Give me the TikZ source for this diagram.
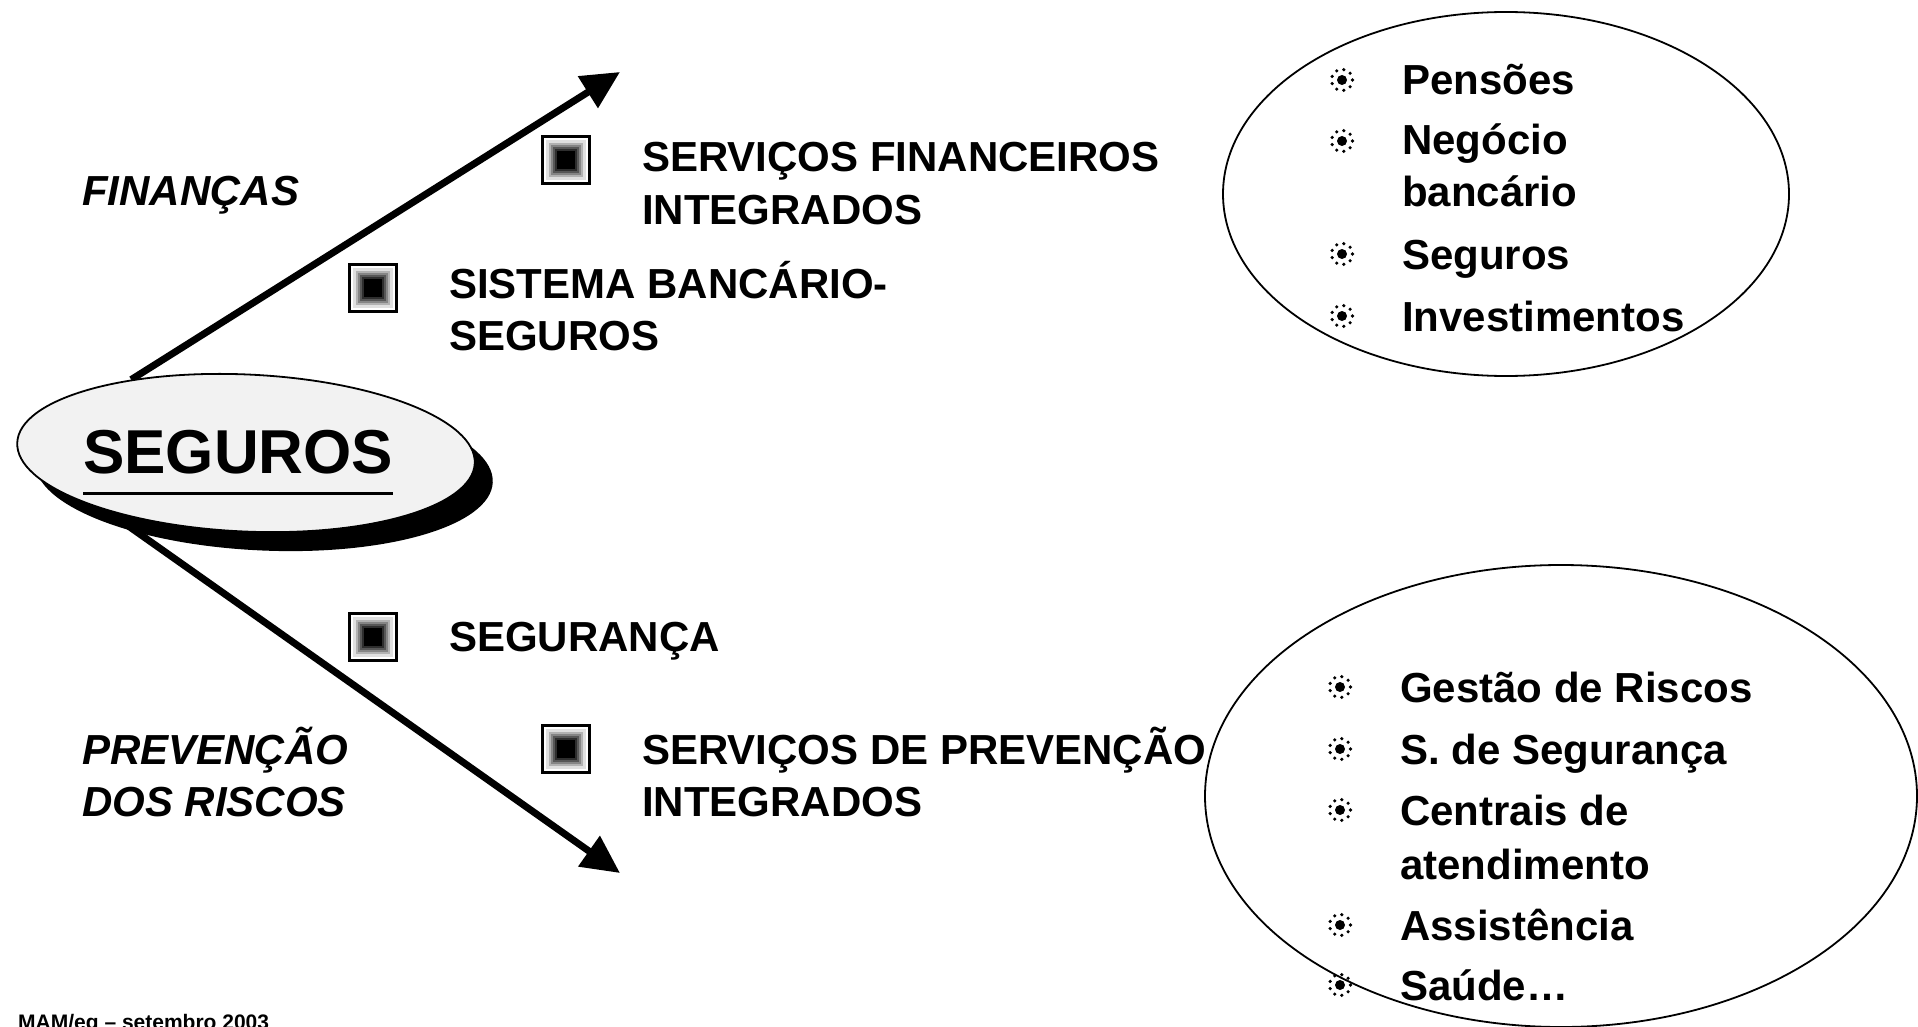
\documentclass[tikz,border=0pt]{standalone}
\usepackage{fontspec}
\setmainfont{Liberation Sans}
\usetikzlibrary{arrows.meta,shapes.geometric,shadows,backgrounds}

\begin{document}
\begin{tikzpicture}[%
    x=1pt, y=-1pt,                 % one unit per pixel, y going down
    >={Triangle[length=38pt,width=36pt]},
    font=\bfseries\fontsize{42}{52}\selectfont,
    ]
\tikzset{
  txt/.style={anchor=base west, inner sep=0pt, align=left},
  ital/.style={txt, font=\bfseries\itshape\fontsize{42}{52}\selectfont},
  sqbox/.style={draw, line width=3pt, minimum size=47pt, inner sep=0pt, fill=white,
    path picture={\foreach \h/\c in {20/12, 17/30, 15/48, 13/66, 11/82, 9/100}
      \fill[black!\c] ([shift={(-\h pt,-\h pt)}]path picture bounding box.center)
        rectangle ([shift={(\h pt,\h pt)}]path picture bounding box.center);}},
  sunbul/.style={circle, minimum size=28pt, inner sep=0pt,
    path picture={\fill (path picture bounding box.center) circle (5pt);
      \foreach \a in {0,40,...,320}
        \fill ([shift={(\a:10.5pt)}]path picture bounding box.center) circle (1.8pt);}},
  oval/.style={draw, ellipse, line width=1.8pt, inner sep=0pt},
  segell/.style={oval, fill=gray!10, minimum width=458pt, minimum height=157pt, rotate=-2.6,
    drop shadow={shadow xshift=18pt, shadow yshift=-19pt, fill=black, opacity=1}},
  ar/.style={->, line width=7pt},
}
\useasboundingbox (0,0) rectangle (1918,1027);

% central ellipse
\node[segell] (seg) at (246,453) {};
\node[txt, font=\bfseries\fontsize{62}{70}\selectfont] (segt) at (83,473) {SEGUROS};
\draw[line width=3pt] ([yshift=-20pt]segt.base west) -- ([yshift=-20pt]segt.base east);

% the two branches
\coordinate (finTip) at (620,72);
\coordinate (prvTip) at (620,873);
\begin{scope}[on background layer]
  \draw[ar] (seg.150) -- (finTip);
  \draw[ar] (seg.205) -- (prvTip);
\end{scope}

% base of a two-line text = base of its last line
\node[ital] (fin) at (82,205) {FINANÇAS};
\node[ital] (prv) at (82,816) {PREVENÇÃO\\DOS RISCOS};

% square items
\node[sqbox] (sq1) at (566,160) {};
\node[txt] (sfi) at (642,224) {SERVIÇOS FINANCEIROS\\INTEGRADOS};
\node[sqbox] (sq2) at (373,288) {};
\node[txt] (sbs) at (449,350) {SISTEMA BANCÁRIO-\\SEGUROS};
\node[sqbox] (sq3) at (373,637) {};
\node[txt] (sgr) at (449,651) {SEGURANÇA};
\node[sqbox] (sq4) at (566,749) {};
\node[txt] (spi) at (642,816) {SERVIÇOS DE PREVENÇÃO\\INTEGRADOS};

% finance oval
\node[oval, minimum width=566pt, minimum height=364pt] (finov) at (1506,194) {};
\foreach \y/\b/\t [count=\i] in {80/95/{Pensões}, 141/207/{Negócio\\bancário}, 254/269/{Seguros}, 316/331/{Investimentos}} {
  \node[sunbul] (fb\i) at (1342,\y) {};
  \node[txt] (ft\i) at (1402,\b) {\t};
}

% prevention oval
\node[oval, minimum width=712pt, minimum height=462pt] (prvov) at (1561,796) {};
\foreach \y/\b/\t [count=\i] in {687/702/{Gestão de Riscos}, 749/764/{S. de Segurança}, 810/879/{Centrais de\\[2pt]atendimento}, 925/940/{Assistência}, 985/1000/{Saúde\ldots}} {
  \node[sunbul] (pb\i) at (1340,\y) {};
  \node[txt] (pt\i) at (1400,\b) {\t};
}

\node[txt, font=\bfseries\fontsize{21}{25}\selectfont] (foot) at (18,1029) {MAM/eg – setembro 2003};
\end{tikzpicture}
\end{document}
